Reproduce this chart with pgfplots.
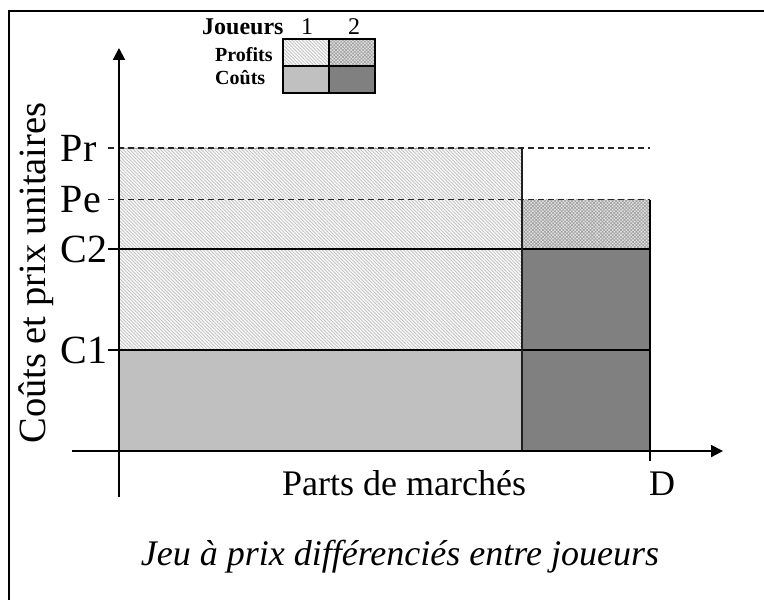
\documentclass[border=0pt]{standalone}
\usepackage{fontspec}
\setmainfont{Liberation Serif}
\usepackage{pgfplots}
\pgfplotsset{compat=1.18}
\usetikzlibrary{patterns.meta, arrows.meta}
\definecolor{costA}{HTML}{C0C0C0}
\definecolor{costB}{HTML}{808080}
\tikzset{
  profA/.style={fill=gray!6, postaction={pattern={Lines[angle=-45,distance=2.4bp,line width=0.7bp]}, pattern color=gray!50}},
  profB/.style={fill=gray!22, postaction={pattern={Hatch[angle=45,distance=2.4bp,line width=0.6bp]}, pattern color=gray!75}},
}
\newcommand{\bigfont}{\fontsize{36bp}{40bp}\selectfont}
\begin{document}
\begin{tikzpicture}[x=1bp,y=1bp]
\useasboundingbox (0,0) rectangle (764,600);
\draw[line width=2.3bp] (9,-10) -- (9,589) -- (780,589);
\begin{axis}[
  at={(72bp,103bp)}, anchor=south west,
  scale only axis, width=651bp, height=449bp,
  xmin=-0.0885, xmax=1.1375, ymin=-0.455, ymax=3.99,
  axis lines=middle, axis on top,
  axis line style={line width=2bp, -{Triangle[length=12bp,width=12bp]}},
  major tick length=0pt,
  ytick={1,2,2.49,3}, yticklabels={C1,C2,Pe,Pr},
  xtick={1}, xticklabels={D},
  ticklabel style={inner sep=0pt},
  yticklabel style={font=\fontsize{40bp}{44bp}\selectfont, anchor=east, text width=49bp, align=left, xshift=-9bp},
  xticklabel style={font=\bigfont, anchor=north, xshift=12bp, yshift=-21bp},
  xlabel={Parts de marchés},
  xlabel style={at={(axis cs:0.537,-0.317)}, anchor=center, font=\bigfont},
  ylabel={Coûts et prix unitaires},
  ylabel style={at={(axis cs:-0.156,1.762)}, anchor=center, rotate=90, font=\fontsize{38.5bp}{42bp}\selectfont},
  title={\itshape Jeu à prix différenciés entre joueurs},
  title style={at={(axis cs:0.529,-1.10)}, anchor=center, font=\bigfont},
]
% player 1 cost
\addplot[draw=none, fill=costA] coordinates {(0,0) (0.759,0) (0.759,1) (0,1) (0,0)};
% player 1 profit
\addplot[draw=gray!70, line width=0.8bp, profA] coordinates {(0,1) (0.759,1) (0.759,3) (0,3) (0,1)};
% player 2 cost
\addplot[draw=none, fill=costB] coordinates {(0.759,0) (1,0) (1,2) (0.759,2) (0.759,0)};
% player 2 profit
\addplot[draw=none, profB] coordinates {(0.759,2) (1,2) (1,2.49) (0.759,2.49) (0.759,2)};
% price lines (dashed)
\addplot[gray!30!black, line width=1.3bp, dash pattern=on 6bp off 4bp] coordinates {(-0.0207,3) (1,3)};
\addplot[gray!30!black, line width=1.3bp, dash pattern=on 6bp off 4bp] coordinates {(-0.0207,2.49) (1,2.49)};
% cost lines (solid)
\addplot[black, line width=2bp] coordinates {(-0.0207,1) (1,1)};
\addplot[black, line width=2bp] coordinates {(-0.0207,2) (1,2)};
% dividers
\addplot[gray!25!black, line width=1.8bp] coordinates {(0.759,0) (0.759,3)};
\addplot[black, line width=1.8bp] coordinates {(1,-0.1) (1,2.49)};
\end{axis}
% legend table
\begin{scope}[font=\fontsize{24bp}{26bp}\selectfont\bfseries]
\node[anchor=base west, inner sep=0pt] at (202,565) {Joueurs};
\end{scope}
\begin{scope}[font=\fontsize{24bp}{26bp}\selectfont]
\node[anchor=base, inner sep=0pt] at (307,565) {1};
\node[anchor=base, inner sep=0pt] at (354,565) {2};
\end{scope}
\begin{scope}[font=\fontsize{20bp}{22bp}\selectfont\bfseries]
\node[anchor=base west, inner sep=0pt] at (215,538) {Profits};
\node[anchor=base west, inner sep=0pt] at (215,515) {Coûts};
\end{scope}
\path[profA] (283,534) rectangle (329,561);
\path[profB] (329,534) rectangle (375,561);
\fill[costA] (283,507) rectangle (329,534);
\fill[costB] (329,507) rectangle (375,534);
\draw[line width=1.2bp] (283,507) rectangle (375,561);
\draw[line width=1.2bp] (329,507) -- (329,561);
\draw[line width=1.2bp] (283,534) -- (375,534);
\end{tikzpicture}
\end{document}
